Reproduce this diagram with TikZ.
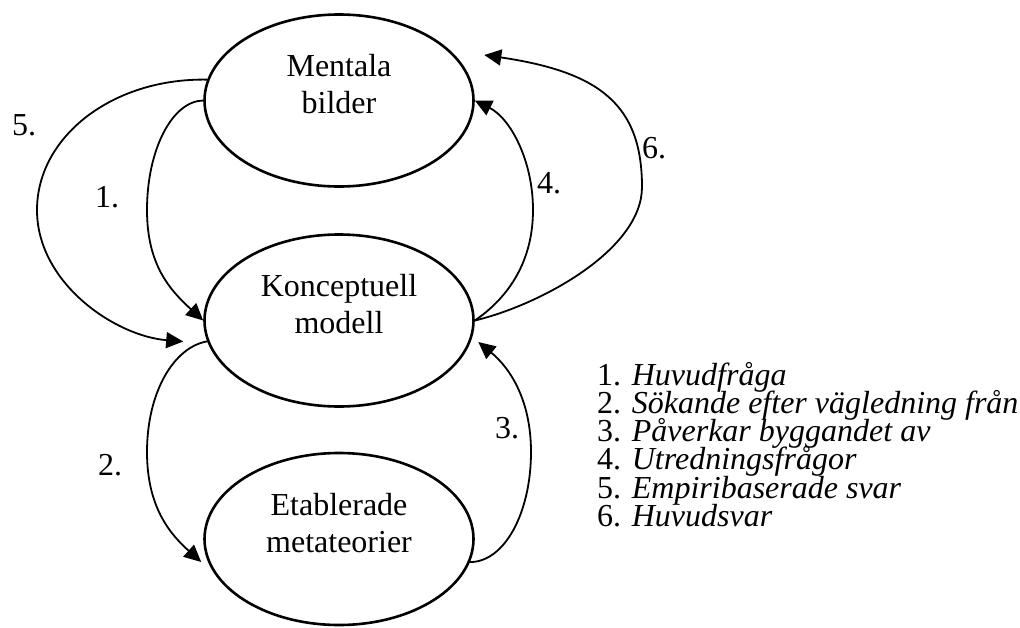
\documentclass[tikz,border=0pt]{standalone}
\usepackage{fontspec}
\setmainfont{Liberation Serif}
\usetikzlibrary{shapes.geometric,arrows.meta}
\begin{document}
\begin{tikzpicture}[x=1pt,y=-1pt,
  bubble/.style={draw, ellipse, line width=2.6pt, minimum width=269pt,
    minimum height=172pt, inner sep=0pt},
  caption/.style={anchor=base, inner sep=0pt, font=\fontsize{32}{37}\selectfont},
  num/.style={anchor=base west, inner sep=0pt, font=\fontsize{32}{37}\selectfont},
  flow/.style={line width=1.8pt, -{Triangle[length=17pt,width=16pt]}}
]
\useasboundingbox (0,0) rectangle (1020,627);

% the three concepts
\node[bubble] (mb) at (339,100.5) {};
\node[bubble] (km) at (339,320.5) {};
\node[bubble] (em) at (339,539) {};

\node[caption] (mbt) at (339,76)  {\parbox[t]{240pt}{\centering Mentala\\bilder}};
\node[caption] (kmt) at (339,296) {\parbox[t]{240pt}{\centering Konceptuell\\modell}};
\node[caption] (emt) at (339,515) {\parbox[t]{240pt}{\centering Etablerade\\metateorier}};

% free arrow ends
\coordinate (t5) at ([shift={(-20,21)}]km.west);
\coordinate (t2) at ([shift={(-2,23)}]em.west);
\coordinate (t3) at ([shift={(3.5,21.5)}]km.east);
\coordinate (t6) at ([shift={(9.5,-45.5)}]mb.east);

% left side
\draw[flow] (mb.171) .. controls (112,78) and (37,137) .. (37,210)
                     .. controls (37,283) and (115,336) .. (t5);
\draw[flow] (mb.west) .. controls (172,101) and (147,150) .. (147,210)
                      .. controls (147,265) and (170,290) .. (km.west);
\draw[flow] (km.189) .. controls (174,347) and (147,392) .. (147,452)
                     .. controls (147,507) and (170,534) .. (t2);

% right side
\draw[flow] (em.-10) .. controls (505,562) and (531,512) .. (531,452)
                     .. controls (531,400) and (510,368) .. (t3);
\draw[flow] (km.east) .. controls (505,300) and (533,265) .. (533,210)
                      .. controls (533,160) and (510,118) .. (mb.east);
\draw[flow] (km.east) .. controls (540,305) and (642,250) .. (642,187)
                      .. controls (642,105) and (600,72) .. (t6);

% arrow numbers
\node[num] (l5) at (12,135) {5.};
\node[num] (l1) at (95,207) {1.};
\node[num] (l2) at (98,475) {2.};
\node[num] (l3) at (495,438) {3.};
\node[num] (l4) at (537,193) {4.};
\node[num] (l6) at (642,158) {6.};

% key
\node[anchor=base west, inner sep=0pt, font=\fontsize{32}{28.3}\selectfont] (key) at (597,385)
  {\parbox[t]{440pt}{\lineskiplimit=-100pt\raggedright
    1. \textit{Huvudfråga}\\
    2. \textit{Sökande efter vägledning från}\\
    3. \textit{Påverkar byggandet av}\\
    4. \textit{Utredningsfrågor}\\
    5. \textit{Empiribaserade svar}\\
    6. \textit{Huvudsvar}}};
\end{tikzpicture}
\end{document}
